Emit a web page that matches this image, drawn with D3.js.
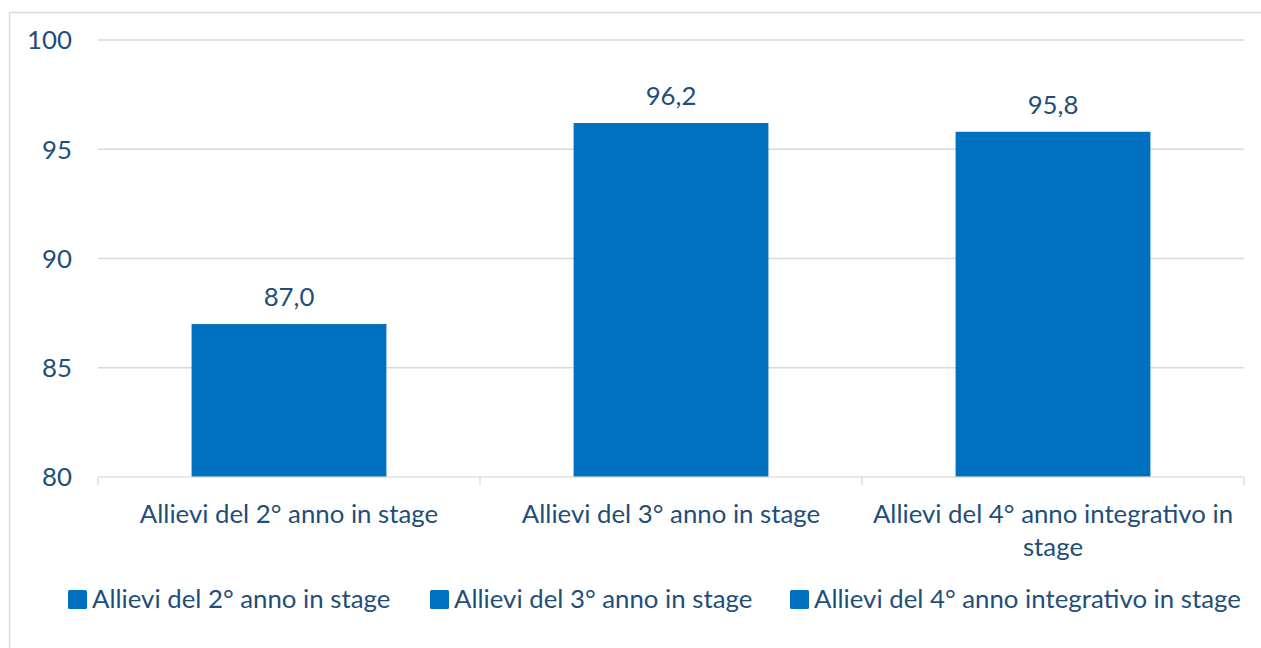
<!DOCTYPE html>
<html><head><meta charset="utf-8">
<script src="https://cdn.jsdelivr.net/npm/d3@7"></script>
<style>
html,body{margin:0;padding:0;background:#fff;}
svg{display:block;font-family:Lato, sans-serif;}
</style></head><body>
<svg id="chart" width="1261" height="648"></svg>
<script>
const categories = ["Allievi del 2° anno in stage", "Allievi del 3° anno in stage", "Allievi del 4° anno integrativo in stage"];
const values = [87.0, 96.2, 95.8];
const yTicks = [80, 85, 90, 95, 100];
const axisLabelLines = [["Allievi del 2° anno in stage"], ["Allievi del 3° anno in stage"], ["Allievi del 4° anno integrativo in", "stage"]];

const textColor = "#1f4e79";
const barColor = "#0070c0";
const fs = 25.8;

const svg = d3.select("#chart");
const m = {left: 98, right: 1244, top: 40, bottom: 477};

svg.append("rect").attr("x", 9.5).attr("y", 12.5).attr("width", 1300).attr("height", 700)
  .attr("fill", "none").attr("stroke", "#d9d9d9").attr("stroke-width", 1.5);

const x = d3.scaleBand().domain(categories).range([m.left, m.right]).paddingInner(0.49).paddingOuter(0.245);
const y = d3.scaleLinear().domain([80, 100]).range([m.bottom, m.top]);

// gridlines
svg.append("g").selectAll("line").data(yTicks.filter(t => t !== 80)).join("line")
  .attr("x1", m.left).attr("x2", m.right)
  .attr("y1", d => y(d)).attr("y2", d => y(d))
  .attr("stroke", "#d9d9d9").attr("stroke-width", 1.3);

// y tick labels
svg.append("g").selectAll("text").data(yTicks).join("text")
  .attr("x", 72).attr("y", d => y(d)).attr("dy", "0.36em")
  .attr("text-anchor", "end").attr("fill", textColor).attr("font-size", fs)
  .text(d => d);

// bars
svg.append("g").selectAll("rect").data(values).join("rect")
  .attr("x", (d, i) => x(categories[i])).attr("width", x.bandwidth())
  .attr("y", d => y(d)).attr("height", d => y(80) - y(d))
  .attr("fill", barColor);

// data labels
svg.append("g").selectAll("text").data(values).join("text")
  .attr("x", (d, i) => x(categories[i]) + x.bandwidth() / 2)
  .attr("y", d => y(d) - 18)
  .attr("text-anchor", "middle").attr("fill", textColor).attr("font-size", fs)
  .text(d => d3.format(".1f")(d).replace(".", ","));

// x axis line & ticks
const boundaries = [0, 1, 2, 3].map(k => m.left + k * (m.right - m.left) / 3);
svg.append("line").attr("x1", m.left).attr("x2", m.right).attr("y1", m.bottom).attr("y2", m.bottom)
  .attr("stroke", "#d9d9d9").attr("stroke-width", 1.3).attr("stroke-opacity", 0.8);
svg.append("g").selectAll("line").data(boundaries).join("line")
  .attr("x1", d => d).attr("x2", d => d).attr("y1", m.bottom).attr("y2", m.bottom + 8)
  .attr("stroke", "#d9d9d9").attr("stroke-width", 1.3);

// category labels
const cl = svg.append("g").selectAll("text").data(categories).join("text")
  .attr("text-anchor", "middle").attr("fill", textColor).attr("font-size", fs)
  .attr("x", d => x(d) + x.bandwidth() / 2).attr("y", 523);
cl.each(function(d, i) {
  d3.select(this).selectAll("tspan").data(axisLabelLines[i]).join("tspan")
    .attr("x", x(d) + x.bandwidth() / 2).attr("dy", (t, j) => j === 0 ? 0 : 33).text(t => t);
});

// legend
const legendX = [68, 430, 790];
const lg = svg.append("g").selectAll("g").data(categories).join("g")
  .attr("transform", (d, i) => `translate(${legendX[i]},0)`);
lg.append("rect").attr("x", 0).attr("y", 590).attr("width", 19).attr("height", 19).attr("rx", 1.5).attr("fill", barColor);
lg.append("text").attr("x", 24).attr("y", 608).attr("fill", textColor).attr("font-size", fs).text(d => d);
</script>
</body></html>
